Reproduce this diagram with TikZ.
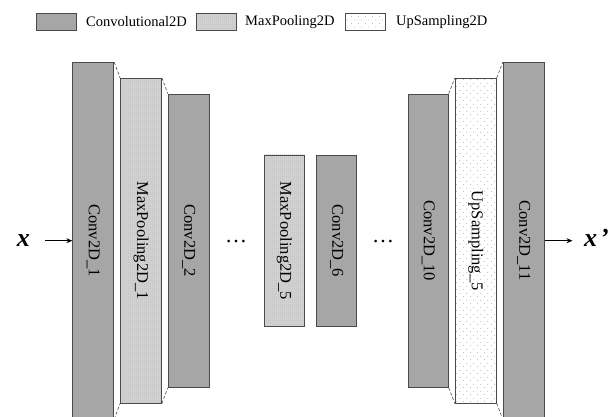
\documentclass[tikz,border=0pt]{standalone}
\usepackage{fontspec}
\setmainfont{Liberation Serif}
\usepackage{graphicx}
\usetikzlibrary{patterns.meta,arrows.meta}

\definecolor{convgray}{HTML}{A6A6A6}
\definecolor{bordergray}{HTML}{4A4A4A}
\definecolor{poolgray}{HTML}{D6D6D6}
\definecolor{poolpat}{HTML}{B4B4B4}
\definecolor{uppat}{HTML}{A8A8A8}

\tikzdeclarepattern{
  name=checkfine, type=uncolored,
  bounding box={(0pt,0pt) and (2pt,2pt)},
  tile size={(2pt,2pt)},
  code={\fill (0pt,0pt) rectangle (1pt,1pt); \fill (1pt,1pt) rectangle (2pt,2pt);}
}
\tikzdeclarepattern{
  name=sparsedots, type=uncolored,
  bounding box={(0pt,0pt) and (7pt,7pt)},
  tile size={(7pt,7pt)},
  code={\fill (1.75pt,1.75pt) circle (0.5pt); \fill (5.25pt,5.25pt) circle (0.5pt);}
}

\tikzset{
  layer/.style={draw=bordergray, line width=0.9pt, minimum width=41pt, inner sep=0pt,
    font=\fontsize{16.5}{16.5}\selectfont},
  convbox/.style={layer, fill=convgray},
  poolbox/.style={layer, preaction={fill=poolgray}, pattern=checkfine, pattern color=poolpat},
  upbox/.style={layer, preaction={fill=white}, pattern=sparsedots, pattern color=uppat},
  joint/.style={densely dashed, draw=bordergray, line width=0.6pt},
  flow/.style={-{Stealth[length=6pt,width=5pt]}, line width=0.9pt},
  legtext/.style={font=\fontsize{14.5}{14.5}\selectfont, anchor=west, inner sep=0pt},
  legbox/.style={minimum width=40pt, minimum height=17.4pt},
  dotsnode/.style={font=\fontsize{22}{22}\selectfont, inner sep=0pt, anchor=base},
  varnode/.style={font=\fontsize{26}{26}\selectfont\bfseries\itshape, inner sep=0pt},
}

\begin{document}
\begin{tikzpicture}[x=1pt,y=-1pt]
\useasboundingbox (0,0) rectangle (610,417);

% legend
\node[convbox, legbox] (lg1) at (56,22) {};
\node[legtext] (lt1) at (86,22) {Convolutional2D};
\node[poolbox, legbox] (lg2) at (216,22) {};
\node[legtext] (lt2) at (245,22) {MaxPooling2D};
\node[upbox, legbox] (lg3) at (365,22) {};
\node[legtext] (lt3) at (396,22) {UpSampling2D};

% layers
\node[convbox, minimum height=356pt] (c1) at (93.3,240.7) {\rotatebox{-90}{Conv2D\_1}};
\node[poolbox, minimum height=324.7pt] (m1) at (141,240.7) {\rotatebox{-90}{MaxPooling2D\_1}};
\node[convbox, minimum height=293.4pt] (c2) at (188.7,240.7) {\rotatebox{-90}{Conv2D\_2}};

\node[poolbox, minimum height=171.7pt, minimum width=40pt] (m5) at (284.3,240.8) {\rotatebox{-90}{MaxPooling2D\_5}};
\node[convbox, minimum height=171.7pt, minimum width=40pt] (c6) at (336.7,240.8) {\rotatebox{-90}{Conv2D\_6}};

\node[convbox, minimum height=293.4pt, minimum width=40pt] (c10) at (428.3,240.7) {\rotatebox{-90}{Conv2D\_10}};
\node[upbox, minimum height=324.7pt] (u5) at (475.8,240.7) {\rotatebox{-90}{UpSampling\_5}};
\node[convbox, minimum height=356pt] (c11) at (523.7,240.7) {\rotatebox{-90}{Conv2D\_11}};

% dashed joints
\draw[joint] (c1.north east) -- (m1.north west);
\draw[joint] (m1.north east) -- (c2.north west);
\draw[joint] (c1.south east) -- (m1.south west);
\draw[joint] (m1.south east) -- (c2.south west);
\draw[joint] (c10.north east) -- (u5.north west);
\draw[joint] (u5.north east) -- (c11.north west);
\draw[joint] (c10.south east) -- (u5.south west);
\draw[joint] (u5.south east) -- (c11.south west);

% ellipses
\node[dotsnode] (d1) at (236,242) {…};
\node[dotsnode] (d2) at (383,242) {…};

% input / output
\node[varnode, anchor=base] (xin) at (23.3,246.7) {x};
\coordinate (instart) at (45,240.7);
\draw[flow] (instart) -- (c1.west |- instart);

\node[varnode, anchor=base west] (xout) at (584,246.7) {x\hspace{3pt}'};
\coordinate (outend) at (572.5,240.7);
\draw[flow] (c11.east |- outend) -- (outend);
\end{tikzpicture}
\end{document}
